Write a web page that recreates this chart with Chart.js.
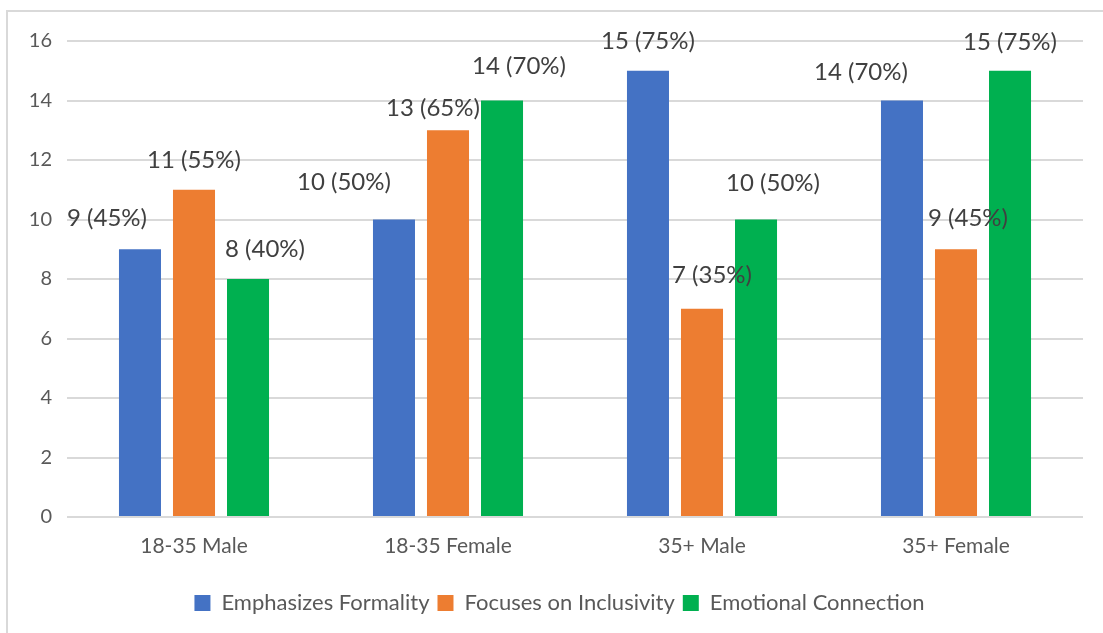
<!DOCTYPE html>
<html>
<head>
<meta charset="utf-8">
<script src="https://cdn.jsdelivr.net/npm/chart.js@4/dist/chart.umd.min.js"></script>
<style>
  html, body { margin: 0; padding: 0; background: #ffffff; }
  #wrap { position: relative; width: 1103px; height: 633px; }
</style>
</head>
<body>
<div id="wrap"><canvas id="chart" width="1103" height="633"></canvas></div>
<script>
// Respondent groups and counts per communication style (out of 20 each)
const categories = ['18-35 Male', '18-35 Female', '35+ Male', '35+ Female'];
const formality   = [9, 10, 15, 14];
const inclusivity = [11, 13, 7, 9];
const emotional   = [8, 14, 10, 15];
const groupSize = 20;
const yTicks = [0, 2, 4, 6, 8, 10, 12, 14, 16];

const FONT = 'Lato, "Open Sans", sans-serif';

// Nudges for value labels so neighbouring labels don't collide: [dx, dy] per series, per group
const labelNudge = [
  [[-33, -31], [-50, -37], [0, -29], [-41, -28]],
  [[0, -29], [-15, -22], [10, -33], [12, -31]],
  [[17, -30], [17, -34], [17, -36], [0, -28]]
];

const valueLabels = {
  id: 'valueLabels',
  afterDatasetsDraw(chart) {
    const ctx = chart.ctx;
    ctx.save();
    ctx.font = '24px ' + FONT;
    ctx.fillStyle = '#404040';
    ctx.textAlign = 'center';
    ctx.textBaseline = 'middle';
    chart.data.datasets.forEach((ds, di) => {
      chart.getDatasetMeta(di).data.forEach((bar, i) => {
        const v = ds.data[i];
        const pct = Math.round(v / groupSize * 100);
        const [dx, dy] = labelNudge[di][i];
        ctx.fillText(v + ' (' + pct + '%)', bar.x + dx, bar.y + dy);
      });
    });
    ctx.restore();
  }
};

// Outer frame of the chart object
const frame = {
  id: 'frame',
  beforeDraw(chart) {
    const ctx = chart.ctx;
    ctx.save();
    ctx.strokeStyle = '#d9d9d9';
    ctx.lineWidth = 2;
    ctx.strokeRect(7, 11, 1110, 640);
    ctx.restore();
  }
};

// Legend sits a little right of the canvas centre
const legendShift = {
  id: 'legendShift',
  afterLayout(chart) {
    if (chart.legend) {
      chart.legend.left += 18;
      chart.legend.right += 18;
    }
  }
};

new Chart(document.getElementById('chart'), {
  type: 'bar',
  data: {
    labels: categories,
    datasets: [
      { label: 'Emphasizes Formality', data: formality, backgroundColor: '#4472C4' },
      { label: 'Focuses on Inclusivity', data: inclusivity, backgroundColor: '#ED7D31' },
      { label: 'Emotional Connection', data: emotional, backgroundColor: '#00B050' }
    ]
  },
  options: {
    responsive: false,
    animation: false,
    devicePixelRatio: 1,
    layout: { padding: { left: 0, right: 20, top: 41, bottom: 9 } },
    datasets: { bar: { categoryPercentage: 0.638, barPercentage: 0.778 } },
    scales: {
      x: {
        grid: { display: false, drawTicks: false },
        border: { display: false },
        ticks: { color: '#595959', font: { family: FONT, size: 21 }, padding: 17 },
        afterFit(scale) { scale.height = 67; }
      },
      y: {
        min: 0, max: 16,
        afterBuildTicks(scale) { scale.ticks = yTicks.map(v => ({ value: v })); },
        grid: { color: '#d9d9d9', lineWidth: 2, drawTicks: false },
        border: { display: false },
        ticks: { color: '#595959', font: { family: FONT, size: 20 }, padding: 15 },
        afterFit(scale) { scale.width = 67; }
      }
    },
    plugins: {
      legend: {
        position: 'bottom',
        labels: {
          color: '#595959',
          font: { family: FONT, size: 22 },
          boxWidth: 16, boxHeight: 16, padding: 8
        }
      },
      tooltip: { enabled: false }
    }
  },
  plugins: [frame, legendShift, valueLabels]
});
</script>
</body>
</html>
